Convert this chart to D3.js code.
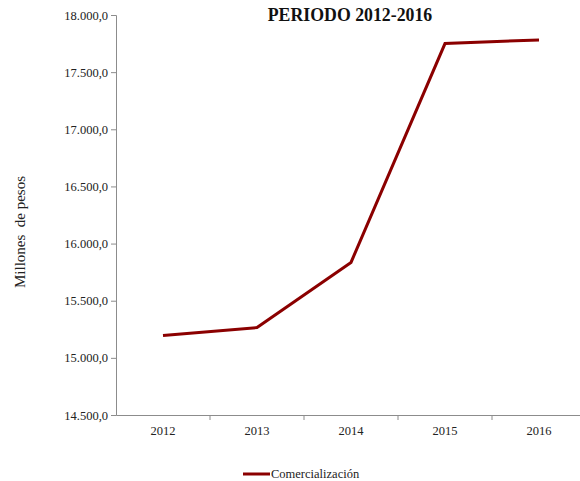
<!DOCTYPE html>
<html>
<head>
<meta charset="utf-8">
<script src="https://cdn.jsdelivr.net/npm/d3@7"></script>
<style>
  html, body { margin: 0; padding: 0; background: #fff; overflow: hidden; }
</style>
</head>
<body>
<svg id="chart" width="580" height="481"></svg>
<script>
// Commercialization revenue, millions of pesos
const years = ["2012", "2013", "2014", "2015", "2016"];
const comercializacion = [15195, 15265, 15835, 17750, 17782];
const yTicks = [14500, 15000, 15500, 16000, 16500, 17000, 17500, 18000];
const seriesName = "Comercialización";

const FONT = "'Liberation Serif', 'Times New Roman', 'DejaVu Serif', serif";
const svg = d3.select("#chart").attr("font-family", FONT);
const margin = { left: 116, top: 15, right: -6, bottom: 66 };
const W = 580, H = 481;

const x = d3.scaleBand().domain(years)
  .range([margin.left, W - margin.right]);
const y = d3.scaleLinear().domain([14500, 18000])
  .range([H - margin.bottom, margin.top]);

const fmt = v => d3.format(",.1f")(v).replace(/,/g, "#").replace(".", ",").replace(/#/g, ".");

// Y axis
const yAxis = svg.append("g")
  .attr("transform", `translate(${margin.left},0)`)
  .call(d3.axisLeft(y).tickValues(yTicks).tickFormat(fmt).tickSize(5).tickPadding(3));
yAxis.attr("font-family", FONT).attr("font-size", 12.5);
yAxis.select(".domain").attr("stroke", "#8c8c8c");
yAxis.selectAll(".tick line").attr("stroke", "#8c8c8c");
yAxis.selectAll("text").attr("fill", "#222");

// X axis
const xAxis = svg.append("g")
  .attr("transform", `translate(0,${y(14500)})`)
  .call(d3.axisBottom(x).tickSizeOuter(0).tickSize(0).tickPadding(11));
xAxis.attr("font-family", FONT).attr("font-size", 12.5);
xAxis.select(".domain").attr("stroke", "#8c8c8c");
xAxis.selectAll("text").attr("fill", "#222");
// category boundary ticks
xAxis.selectAll(".bound").data(years.slice(1)).enter().append("line")
  .attr("class", "bound")
  .attr("x1", d => x(d)).attr("x2", d => x(d))
  .attr("y1", 0).attr("y2", 5).attr("stroke", "#8c8c8c");

// Series line
const pts = years.map((yr, i) => [x(yr) + x.bandwidth() / 2, y(comercializacion[i])]);
svg.append("path")
  .attr("d", d3.line()(pts))
  .attr("fill", "none")
  .attr("stroke", "#8b0000")
  .attr("stroke-width", 3)
  .attr("stroke-linejoin", "miter");

// Title
svg.append("text")
  .attr("x", 350).attr("y", 21)
  .attr("text-anchor", "middle")
  .attr("font-family", FONT)
  .attr("font-size", 17.8).attr("font-weight", "bold")
  .attr("fill", "#111")
  .text("PERIODO 2012-2016");

// Y axis title
svg.append("text")
  .attr("transform", "translate(25,232) rotate(-90)")
  .attr("text-anchor", "middle")
  .attr("font-family", FONT)
  .attr("font-size", 15).attr("fill", "#222")
  .attr("xml:space", "preserve")
  .text("Millones  de pesos");

// Legend
svg.append("line")
  .attr("x1", 243).attr("x2", 270).attr("y1", 474).attr("y2", 474)
  .attr("stroke", "#8b0000").attr("stroke-width", 3);
svg.append("text")
  .attr("x", 271).attr("y", 478)
  .attr("font-family", FONT)
  .attr("font-size", 12.5).attr("fill", "#222")
  .text(seriesName);
</script>
</body>
</html>
